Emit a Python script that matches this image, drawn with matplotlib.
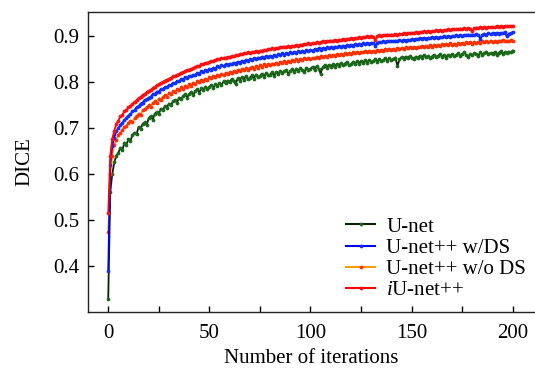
import matplotlib
matplotlib.use("Agg")
import matplotlib.pyplot as plt
import numpy as np

iterations = list(range(0, 201))

unet = [
    0.328, 0.560, 0.600, 0.625, 0.640, 0.646, 0.657, 0.652, 0.668, 0.664,
    0.676, 0.672, 0.685, 0.690, 0.686, 0.702, 0.698, 0.709, 0.712, 0.706,
    0.721, 0.726, 0.718, 0.731, 0.735, 0.730, 0.742, 0.739, 0.747, 0.744,
    0.753, 0.749, 0.758, 0.761, 0.755, 0.766, 0.762, 0.769, 0.773, 0.766,
    0.774, 0.778, 0.771, 0.780, 0.784, 0.777, 0.786, 0.782, 0.790, 0.785,
    0.789, 0.794, 0.787, 0.796, 0.791, 0.798, 0.793, 0.801, 0.797, 0.803,
    0.799, 0.806, 0.801, 0.795, 0.808, 0.803, 0.810, 0.805, 0.812, 0.806,
    0.809, 0.814, 0.807, 0.816, 0.810, 0.813, 0.818, 0.811, 0.819, 0.814,
    0.816, 0.821, 0.813, 0.822, 0.817, 0.824, 0.819, 0.823, 0.826, 0.818,
    0.823, 0.828, 0.821, 0.829, 0.824, 0.830, 0.826, 0.822, 0.831, 0.827,
    0.828, 0.833, 0.826, 0.834, 0.829, 0.818, 0.832, 0.836, 0.830, 0.837,
    0.833, 0.838, 0.832, 0.839, 0.835, 0.841, 0.836, 0.840, 0.843, 0.837,
    0.838, 0.844, 0.839, 0.845, 0.840, 0.846, 0.842, 0.847, 0.841, 0.848,
    0.843, 0.846, 0.849, 0.844, 0.850, 0.845, 0.848, 0.851, 0.846, 0.852,
    0.847, 0.850, 0.853, 0.834, 0.849, 0.854, 0.850, 0.855, 0.851, 0.856,
    0.852, 0.849, 0.855, 0.851, 0.857, 0.853, 0.858, 0.854, 0.856, 0.852,
    0.855, 0.859, 0.854, 0.857, 0.860, 0.855, 0.858, 0.853, 0.859, 0.856,
    0.861, 0.856, 0.859, 0.862, 0.857, 0.860, 0.864, 0.858, 0.855, 0.861,
    0.858, 0.863, 0.860, 0.857, 0.864, 0.859, 0.862, 0.866, 0.860, 0.863,
    0.861, 0.865, 0.859, 0.863, 0.867, 0.861, 0.864, 0.862, 0.866, 0.864,
    0.868,
]

unetpp_ds = [
    0.389, 0.620, 0.661, 0.679, 0.693, 0.699, 0.707, 0.711, 0.717, 0.721,
    0.727, 0.730, 0.736, 0.739, 0.745, 0.747, 0.753, 0.755, 0.761, 0.762,
    0.766, 0.768, 0.773, 0.774, 0.779, 0.779, 0.784, 0.784, 0.789, 0.789,
    0.793, 0.793, 0.798, 0.797, 0.802, 0.801, 0.806, 0.805, 0.810, 0.808,
    0.813, 0.812, 0.816, 0.815, 0.820, 0.818, 0.823, 0.821, 0.826, 0.824,
    0.828, 0.827, 0.831, 0.829, 0.834, 0.832, 0.836, 0.834, 0.838, 0.836,
    0.840, 0.838, 0.842, 0.840, 0.844, 0.842, 0.846, 0.844, 0.848, 0.846,
    0.849, 0.847, 0.851, 0.849, 0.853, 0.851, 0.855, 0.852, 0.856, 0.854,
    0.857, 0.855, 0.858, 0.856, 0.860, 0.858, 0.862, 0.859, 0.863, 0.861,
    0.864, 0.862, 0.865, 0.863, 0.867, 0.864, 0.868, 0.866, 0.869, 0.867,
    0.870, 0.868, 0.871, 0.869, 0.873, 0.870, 0.874, 0.872, 0.875, 0.873,
    0.876, 0.874, 0.877, 0.875, 0.878, 0.876, 0.879, 0.877, 0.880, 0.878,
    0.881, 0.879, 0.882, 0.880, 0.883, 0.881, 0.884, 0.882, 0.885, 0.883,
    0.885, 0.884, 0.879, 0.885, 0.887, 0.886, 0.888, 0.887, 0.889, 0.888,
    0.889, 0.888, 0.890, 0.889, 0.891, 0.889, 0.892, 0.890, 0.892, 0.891,
    0.893, 0.892, 0.894, 0.893, 0.895, 0.893, 0.896, 0.894, 0.896, 0.895,
    0.897, 0.895, 0.898, 0.896, 0.898, 0.897, 0.899, 0.897, 0.900, 0.898,
    0.900, 0.899, 0.901, 0.899, 0.902, 0.900, 0.902, 0.901, 0.903, 0.901,
    0.903, 0.902, 0.904, 0.902, 0.894, 0.903, 0.905, 0.903, 0.906, 0.904,
    0.906, 0.905, 0.907, 0.905, 0.907, 0.906, 0.908, 0.899, 0.905, 0.906,
    0.908,
]

unetpp_nods = [
    0.473, 0.600, 0.640, 0.662, 0.674, 0.684, 0.689, 0.696, 0.701, 0.705,
    0.711, 0.716, 0.713, 0.722, 0.727, 0.731, 0.728, 0.738, 0.741, 0.745,
    0.749, 0.746, 0.755, 0.758, 0.754, 0.764, 0.761, 0.768, 0.771, 0.767,
    0.776, 0.773, 0.780, 0.778, 0.784, 0.782, 0.788, 0.785, 0.791, 0.789,
    0.795, 0.792, 0.798, 0.796, 0.801, 0.799, 0.805, 0.802, 0.807, 0.804,
    0.810, 0.808, 0.813, 0.811, 0.815, 0.812, 0.817, 0.815, 0.820, 0.818,
    0.821, 0.819, 0.824, 0.822, 0.826, 0.823, 0.828, 0.825, 0.830, 0.827,
    0.830, 0.833, 0.829, 0.834, 0.831, 0.836, 0.833, 0.838, 0.835, 0.839,
    0.837, 0.840, 0.838, 0.842, 0.839, 0.843, 0.841, 0.845, 0.842, 0.846,
    0.844, 0.847, 0.845, 0.849, 0.846, 0.850, 0.848, 0.851, 0.849, 0.852,
    0.850, 0.853, 0.851, 0.855, 0.852, 0.856, 0.854, 0.857, 0.855, 0.858,
    0.856, 0.859, 0.857, 0.860, 0.858, 0.861, 0.859, 0.862, 0.860, 0.863,
    0.861, 0.864, 0.862, 0.865, 0.863, 0.866, 0.864, 0.867, 0.865, 0.868,
    0.865, 0.868, 0.866, 0.869, 0.867, 0.870, 0.868, 0.871, 0.869, 0.872,
    0.869, 0.872, 0.870, 0.873, 0.871, 0.874, 0.872, 0.875, 0.873, 0.876,
    0.873, 0.876, 0.874, 0.877, 0.875, 0.878, 0.876, 0.879, 0.877, 0.880,
    0.877, 0.880, 0.878, 0.881, 0.879, 0.882, 0.880, 0.883, 0.881, 0.884,
    0.880, 0.883, 0.881, 0.884, 0.882, 0.885, 0.883, 0.886, 0.884, 0.887,
    0.883, 0.886, 0.884, 0.887, 0.885, 0.888, 0.886, 0.889, 0.887, 0.890,
    0.886, 0.889, 0.887, 0.890, 0.888, 0.891, 0.889, 0.890, 0.888, 0.891,
    0.890,
]

iunetpp = [
    0.515, 0.640, 0.676, 0.694, 0.709, 0.716, 0.725, 0.729, 0.736, 0.739,
    0.745, 0.748, 0.753, 0.757, 0.760, 0.765, 0.767, 0.772, 0.774, 0.778,
    0.781, 0.783, 0.787, 0.789, 0.793, 0.795, 0.798, 0.800, 0.803, 0.805,
    0.807, 0.809, 0.812, 0.813, 0.816, 0.817, 0.820, 0.821, 0.824, 0.825,
    0.827, 0.828, 0.831, 0.832, 0.835, 0.835, 0.838, 0.839, 0.841, 0.842,
    0.843, 0.845, 0.846, 0.847, 0.849, 0.849, 0.851, 0.852, 0.853, 0.854,
    0.854, 0.856, 0.856, 0.858, 0.858, 0.860, 0.860, 0.862, 0.862, 0.864,
    0.863, 0.865, 0.865, 0.867, 0.866, 0.868, 0.868, 0.870, 0.869, 0.871,
    0.871, 0.873, 0.872, 0.874, 0.873, 0.875, 0.875, 0.877, 0.876, 0.878,
    0.877, 0.879, 0.878, 0.880, 0.879, 0.881, 0.881, 0.883, 0.882, 0.884,
    0.883, 0.885, 0.884, 0.886, 0.885, 0.886, 0.888, 0.887, 0.889, 0.888,
    0.890, 0.889, 0.891, 0.890, 0.892, 0.891, 0.893, 0.892, 0.894, 0.893,
    0.895, 0.894, 0.896, 0.895, 0.897, 0.896, 0.898, 0.897, 0.899, 0.898,
    0.899, 0.898, 0.892, 0.899, 0.901, 0.900, 0.902, 0.901, 0.903, 0.902,
    0.903, 0.902, 0.904, 0.903, 0.905, 0.904, 0.906, 0.905, 0.907, 0.906,
    0.907, 0.906, 0.908, 0.907, 0.909, 0.908, 0.910, 0.909, 0.910, 0.909,
    0.911, 0.910, 0.912, 0.911, 0.913, 0.911, 0.913, 0.912, 0.914, 0.913,
    0.915, 0.914, 0.915, 0.914, 0.916, 0.915, 0.917, 0.916, 0.917, 0.916,
    0.911, 0.917, 0.918, 0.917, 0.919, 0.918, 0.919, 0.918, 0.920, 0.919,
    0.920, 0.919, 0.921, 0.920, 0.921, 0.920, 0.922, 0.921, 0.922, 0.921,
    0.922,
]

series_labels = ["U-net", "U-net++ w/DS", "U-net++ w/o DS", r"$\it{i}$U-net++"]
x_ticks = [0, 25, 50, 75, 100, 125, 150, 175, 200]
x_tick_labels = ["0", "", "50", "", "100", "", "150", "", "200"]
y_ticks = [0.4, 0.5, 0.6, 0.7, 0.8, 0.9]
y_tick_labels = ["0.4", "0.5", "0.6", "0.7", "0.8", "0.9"]

plt.rcParams["font.family"] = ["Liberation Serif", "DejaVu Serif"]
plt.rcParams["mathtext.fontset"] = "custom"
plt.rcParams["mathtext.it"] = "Liberation Serif:italic"
plt.rcParams["mathtext.rm"] = "Liberation Serif"

fig = plt.figure(figsize=(5.35, 3.71), dpi=100)
ax = fig.add_axes([88 / 535, 1 - 312 / 371, 1 - 88 / 535, (312 - 12) / 371])

ms = 3.4
lw = 1.3
ax.plot(iterations, unet, color="#0b1f0b", lw=lw, marker=".", ms=ms,
        mfc="#1a6a1a", mec="#1a6a1a", label=series_labels[0], zorder=3)
ax.plot(iterations, unetpp_nods, color="#ff9a00", lw=lw, marker=".", ms=ms,
        mfc="#ff3000", mec="#ff3000", label=series_labels[2], zorder=4)
ax.plot(iterations, unetpp_ds, color="#0000ff", lw=lw, marker=".", ms=ms,
        mfc="#1030ff", mec="#1030ff", label=series_labels[1], zorder=5)
ax.plot(iterations, iunetpp, color="#ff0000", lw=lw, marker=".", ms=ms,
        mfc="#ff1010", mec="#ff1010", label=series_labels[3], zorder=6)

ax.set_xlim(-10, 211)
ax.set_ylim(0.30, 0.952)
ax.set_xticks(x_ticks)
ax.set_xticklabels(x_tick_labels)
ax.set_yticks(y_ticks)
ax.set_yticklabels(y_tick_labels)
ax.tick_params(direction="in", length=4, width=1, labelsize=15)
ax.tick_params(axis="x", pad=9)
ax.tick_params(axis="y", pad=6)
ax.spines["right"].set_visible(False)
for s in ["left", "bottom", "top"]:
    ax.spines[s].set_linewidth(1.0)
    ax.spines[s].set_color("#222222")

ax.set_xlabel("Number of iterations", fontsize=15, labelpad=4)
ax.set_ylabel("DICE", fontsize=15, labelpad=14)

handles, labels = ax.get_legend_handles_labels()
hmap = {l: h for h, l in zip(handles, labels)}
leg = ax.legend([hmap[series_labels[i]] for i in [0, 1, 2, 3]],
                [series_labels[i] for i in [0, 1, 2, 3]],
                loc="lower right", bbox_to_anchor=(1.012, -0.01), frameon=False,
                fontsize=15, handlelength=1.35, handletextpad=0.55,
                labelspacing=0.08, borderaxespad=0.3)
for h in leg.get_lines():
    h.set_linewidth(1.5)

fig.savefig("out.png", dpi=100)
